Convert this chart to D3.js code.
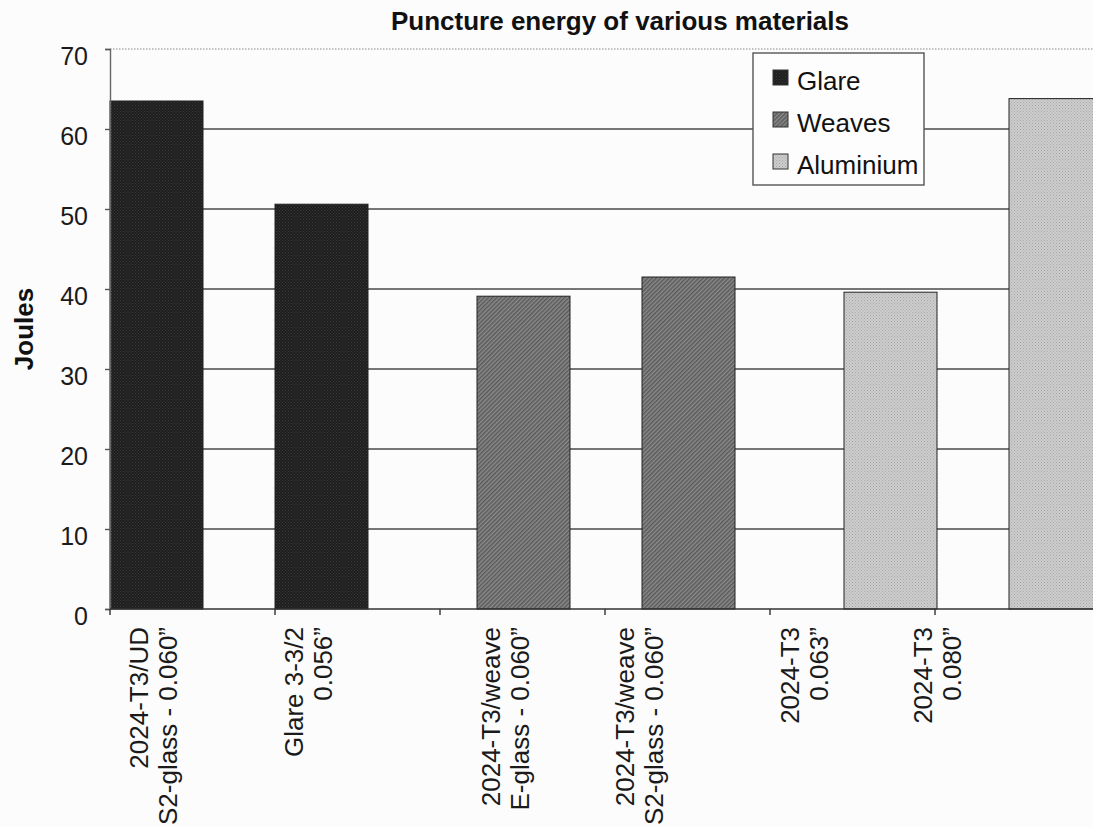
<!DOCTYPE html>
<html>
<head>
<meta charset="utf-8">
<script src="https://cdn.jsdelivr.net/npm/d3@7"></script>
<style>
  html, body { margin: 0; padding: 0; background: #fcfcfc; }
  svg { display: block; font-family: "Liberation Sans", Arial, sans-serif; }
</style>
</head>
<body>
<svg id="chart" width="1093" height="827"></svg>
<script>
// ---- data ----
const categories = [
  "2024-T3/UD S2-glass - 0.060\u201D",
  "Glare 3-3/2 0.056\u201D",
  "2024-T3/weave E-glass - 0.060\u201D",
  "2024-T3/weave S2-glass - 0.060\u201D",
  "2024-T3 0.063\u201D",
  "2024-T3 0.080\u201D"
];
const categoryLines = [
  ["2024-T3/UD", "S2-glass - 0.060\u201D"],
  ["Glare 3-3/2", "0.056\u201D"],
  ["2024-T3/weave", "E-glass - 0.060\u201D"],
  ["2024-T3/weave", "S2-glass - 0.060\u201D"],
  ["2024-T3", "0.063\u201D"],
  ["2024-T3", "0.080\u201D"]
];
const seriesNames = ["Glare", "Weaves", "Aluminium"];
const barSeries = ["Glare", "Glare", "Weaves", "Weaves", "Aluminium", "Aluminium"];
const joules = [63.5, 50.6, 39.1, 41.5, 39.6, 63.8];
const yTicks = [0, 10, 20, 30, 40, 50, 60, 70];

// ---- layout ----
const W = 1093, H = 827;
const plot = { left: 110, right: 1100, top: 49, bottom: 609 };
const labelShift = [-40, -50, -18, -49, -49, -81]; // label nudge from category centre (px)

const svg = d3.select("#chart");

// fill textures for the three series
const defs = svg.append("defs");
function dotPattern(id, base, dot, size) {
  const p = defs.append("pattern").attr("id", id)
    .attr("patternUnits", "userSpaceOnUse").attr("width", size).attr("height", size);
  p.append("rect").attr("width", size).attr("height", size).attr("fill", base);
  p.append("rect").attr("width", 1).attr("height", 1).attr("fill", dot);
  p.append("rect").attr("x", size / 2).attr("y", size / 2).attr("width", 1).attr("height", 1).attr("fill", dot);
}
dotPattern("pat-glare", "#1d1d1d", "#3c3c3c", 3);
dotPattern("pat-alu", "#cdcdcd", "#a9a9a9", 3);
(function () {
  const p = defs.append("pattern").attr("id", "pat-weave")
    .attr("patternUnits", "userSpaceOnUse").attr("width", 3).attr("height", 3)
    .attr("patternTransform", "rotate(45)");
  p.append("rect").attr("width", 3).attr("height", 3).attr("fill", "#8a8a8a");
  p.append("rect").attr("width", 1.5).attr("height", 3).attr("fill", "#5a5a5a");
})();
const fillFor = { Glare: "url(#pat-glare)", Weaves: "url(#pat-weave)", Aluminium: "url(#pat-alu)" };
const swatchFor = { Glare: "url(#pat-glare)", Weaves: "url(#pat-weave)", Aluminium: "url(#pat-alu)" };

// ---- scales ----
const x = d3.scaleBand().domain(categories).range([plot.left, plot.right]).padding(0);
const bw = x.bandwidth();
const seriesOffset = d3.scalePoint().domain(seriesNames).range([0, bw * 74 / 165]);
const barW = bw * 93 / 165;
const y = d3.scaleLinear().domain([0, 70]).range([plot.bottom, plot.top]);

// ---- gridlines ----
svg.append("g").selectAll("line")
  .data(yTicks.filter(d => d > 0))
  .join("line")
  .attr("x1", plot.left).attr("x2", plot.right)
  .attr("y1", d => y(d)).attr("y2", d => y(d))
  .attr("stroke", d => d === 70 ? "#888" : "#4a4a4a")
  .attr("stroke-width", d => d === 70 ? 1 : 1.4)
  .attr("stroke-dasharray", d => d === 70 ? "1.5,1.5" : null);

// ---- bars ----
svg.append("g").selectAll("rect")
  .data(categories.map((c, i) => ({ c, s: barSeries[i], v: joules[i] })))
  .join("rect")
  .attr("x", d => x(d.c) + seriesOffset(d.s))
  .attr("y", d => y(d.v))
  .attr("width", barW)
  .attr("height", d => y(0) - y(d.v))
  .attr("fill", d => fillFor[d.s])
  .attr("stroke", "#222")
  .attr("stroke-width", 1);

// ---- y axis ----
const yAxis = svg.append("g")
  .attr("transform", `translate(${plot.left},0)`)
  .call(d3.axisLeft(y).tickValues(yTicks).tickFormat(d3.format("d")).tickSize(5).tickPadding(17));
yAxis.select(".domain").attr("stroke", "#666").attr("stroke-width", 1.4);
yAxis.selectAll(".tick line").attr("stroke", "#555").attr("stroke-width", 1.4);
yAxis.selectAll(".tick text")
  .attr("dy", "0.6em")
  .attr("fill", "#1a1a1a")
  .style("font-size", "25px")
  .style("font-family", "'Liberation Sans', Arial, sans-serif");

// ---- x axis (ticks at category boundaries) ----
const xAxis = svg.append("g");
xAxis.append("line")
  .attr("x1", plot.left).attr("x2", plot.right)
  .attr("y1", y(0)).attr("y2", y(0))
  .attr("stroke", "#333").attr("stroke-width", 1.4);
xAxis.selectAll("line.tick")
  .data(categories)
  .join("line").attr("class", "tick")
  .attr("x1", d => x(d)).attr("x2", d => x(d))
  .attr("y1", y(0)).attr("y2", y(0) + 6)
  .attr("stroke", "#333").attr("stroke-width", 1.4);

// category labels, rotated, two lines each
const labels = xAxis.selectAll("g.label")
  .data(categories)
  .join("g").attr("class", "label")
  .attr("transform", (d, i) => `translate(${x(d) + bw / 2 + labelShift[i]},${y(0) + 18}) rotate(-90)`);
labels.each(function (d, i) {
  const g = d3.select(this);
  categoryLines[i].forEach((line, k) => {
    g.append("text")
      .attr("x", 0)
      .attr("y", k === 0 ? -5 : 24)
      .attr("text-anchor", "end")
      .attr("fill", "#1a1a1a")
      .style("font-size", "26px")
      .text(line);
  });
});

// ---- titles ----
svg.append("text")
  .attr("x", 620).attr("y", 30)
  .attr("text-anchor", "middle")
  .attr("font-weight", "bold")
  .attr("fill", "#111")
  .style("font-size", "26px")
  .text("Puncture energy of various materials");

svg.append("text")
  .attr("transform", `translate(33,${(plot.top + plot.bottom) / 2}) rotate(-90)`)
  .attr("text-anchor", "middle")
  .attr("font-weight", "bold")
  .attr("fill", "#111")
  .style("font-size", "26px")
  .text("Joules");

// ---- legend ----
const legend = svg.append("g").attr("transform", "translate(753,53)");
legend.append("rect")
  .attr("width", 171).attr("height", 132)
  .attr("fill", "#fdfdfd").attr("stroke", "#555").attr("stroke-width", 1.4);
const items = legend.selectAll("g.item")
  .data(seriesNames)
  .join("g").attr("class", "item")
  .attr("transform", (d, i) => `translate(20,${17 + i * 42})`);
items.append("rect")
  .attr("width", 15).attr("height", 15)
  .attr("fill", d => swatchFor[d])
  .attr("stroke", "#333").attr("stroke-width", 1);
items.append("text")
  .attr("x", 24).attr("y", 20)
  .attr("fill", "#111")
  .style("font-size", "26px")
  .text(d => d);
</script>
</body>
</html>
